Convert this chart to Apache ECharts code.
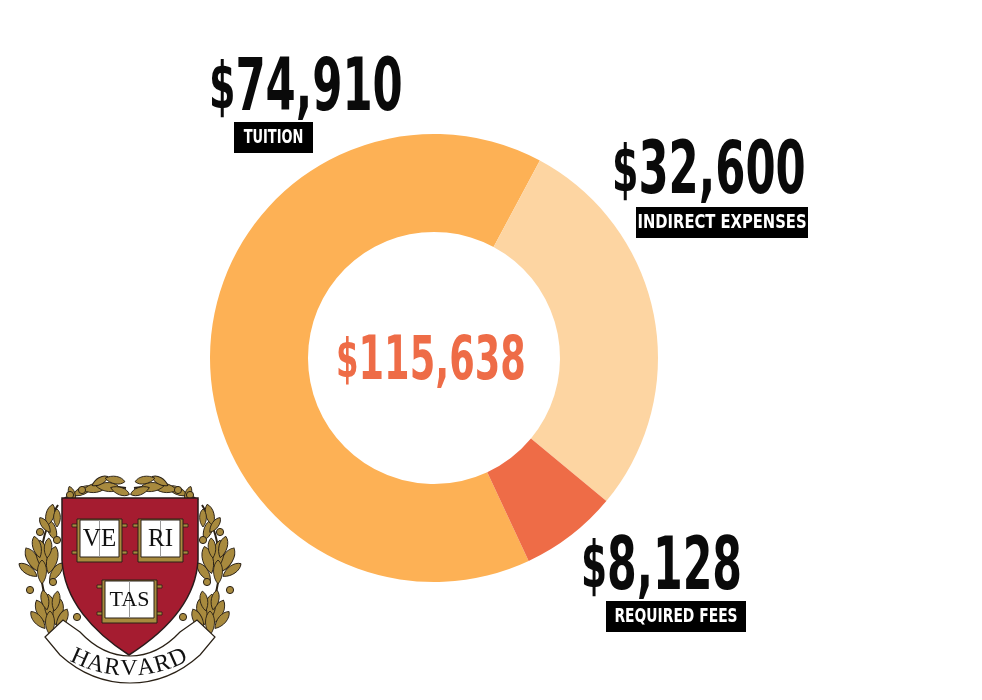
<!DOCTYPE html>
<html>
<head>
<meta charset="utf-8">
<title>Harvard cost</title>
<style>
    html, body { margin: 0; padding: 0; background: #fff; }
    #main { width: 982px; height: 700px; }
</style>
<script src="https://cdn.jsdelivr.net/npm/echarts@6/dist/echarts.min.js"></script>
</head>
<body>
<div id="main"></div>
<script>
const categories = ['TUITION', 'INDIRECT EXPENSES', 'REQUIRED FEES'];
const amounts = [74910, 32600, 8128];
const totalLabel = '115,638';
const colors = ['#fdb155', '#fdd5a2', '#ee6c47'];

const labelFont = '"DejaVu Sans Condensed", "DejaVu Sans", sans-serif';
const crestRed = '#a51c30';
const gold = '#a88a3e';
const ink = '#2a2116';

// 校徽的叶子和小球（只画左边，右边镜像）
const leaves = [
    [42, 612, -25, 1.3], [50, 608, -8, 1.4], [58, 612, 12, 1.3], [38, 620, -40, 1.1],
    [62, 620, 25, 1.2], [50, 623, 0, 1.2], [45, 600, -12, 1], [56, 601, 10, 1],
    [33, 560, -30, 1.4], [42, 555, -8, 1.5], [52, 560, 15, 1.4], [28, 570, -55, 1.1],
    [56, 572, 35, 1.1], [42, 572, 0, 1.2], [37, 547, -15, 1.1], [48, 548, 5, 1],
    [52, 530, -20, 1.1], [50, 515, 15, 1.1], [45, 525, -35, 0.9], [57, 518, 0, 0.9],
    [82, 491, 65, 1], [95, 488, 80, 1.2], [108, 487, 95, 1.2], [120, 491, 110, 1],
    [72, 494, -20, 0.8], [100, 481, 60, 0.9], [115, 480, 100, 1]
];
const berries = [[40, 532], [57, 540], [53, 582], [30, 590], [77, 617], [82, 490], [70, 495]];

// graphic 组件没有 path 类型，先注册校徽要用的形状
function regShape(name, d) {
    echarts.graphic.registerShape(name, echarts.graphic.extendPath(d, {}));
}
regShape('crestLeaf', 'M0 -10C5 -6 5 4 0 10C-5 4 -5 -6 0 -10Z');
regShape('crestShield', 'M62 498L198 498L198 560C196 600 165 632 129 655C93 632 64 600 62 560Z');
regShape('crestRibbon', 'M45 637L63 620L80 632C95 648 112 656 130 656C148 656 165 648 180 632L197 620L215 637L200 655C178 675 155 683 130 683C105 683 82 675 60 655Z');

function moneyText(v) {
    return '{s|$}{d|' + v + '}';
}

function moneyRich(size, color) {
    return {
        s: { font: 'bold ' + Math.round(size * 0.88) + 'px ' + labelFont, fill: color, verticalAlign: 'middle' },
        d: { font: 'bold ' + size + 'px ' + labelFont, fill: color, verticalAlign: 'middle' }
    };
}

// 大号金额 + 黑底小标签
function callout(i, amountX, amountY, boxX, boxY, boxW, amountScale, tagScale) {
    return [{
        type: 'text', x: amountX, y: amountY, scaleX: amountScale, z: 10,
        style: {
            text: moneyText(amounts[i].toLocaleString('en-US')),
            rich: moneyRich(73, '#0a0a0a'),
            verticalAlign: 'middle'
        }
    }, {
        type: 'rect', shape: { x: boxX, y: boxY, width: boxW, height: 31 }, z: 10,
        style: { fill: '#000' }
    }, {
        type: 'text', x: boxX + boxW / 2, y: boxY + 16, scaleX: tagScale, z: 11,
        style: {
            text: categories[i], font: 'bold 20px ' + labelFont, fill: '#fff',
            align: 'center', verticalAlign: 'middle'
        }
    }];
}

// 校徽：月桂枝
function wreath() {
    const out = [];
    [-1, 1].forEach(function (side) {
        const mx = function (x) { return side < 0 ? x : 260 - x; };
        out.push({
            type: 'bezierCurve', z: 2,
            shape: { x1: mx(72), y1: 636, cpx1: mx(30), cpy1: 600, cpx2: mx(35), cpy2: 540, x2: mx(58), y2: 505 },
            style: { fill: 'none', stroke: ink, lineWidth: 2 }
        });
        out.push({
            type: 'bezierCurve', z: 2,
            shape: { x1: mx(62), y1: 500, cpx1: mx(80), cpy1: 488, cpx2: mx(105), cpy2: 484, x2: mx(126), y2: 488 },
            style: { fill: 'none', stroke: ink, lineWidth: 2 }
        });
        leaves.forEach(function (l) {
            const deg = side < 0 ? l[2] : -l[2];
            out.push({
                type: 'crestLeaf', x: mx(l[0]), y: l[1], rotation: -deg * Math.PI / 180,
                scaleX: l[3], scaleY: l[3], z: 3,
                style: { fill: gold, stroke: ink, lineWidth: 0.9 / l[3] }
            });
        });
        berries.forEach(function (b) {
            out.push({
                type: 'circle', shape: { cx: mx(b[0]), cy: b[1], r: 3.6 }, z: 3,
                style: { fill: gold, stroke: ink, lineWidth: 1 }
            });
        });
    });
    return out;
}

// 校徽：书本
function book(x, y, w, h, text, size) {
    return [{
        type: 'rect', shape: { x: x - 5, y: y + 5, width: w + 10, height: 3 }, z: 5,
        style: { fill: gold, stroke: ink, lineWidth: 0.8 }
    }, {
        type: 'rect', shape: { x: x - 5, y: y + h - 11, width: w + 10, height: 3 }, z: 5,
        style: { fill: gold, stroke: ink, lineWidth: 0.8 }
    }, {
        type: 'rect', shape: { x: x, y: y, width: w, height: h }, z: 5,
        style: { fill: gold, stroke: ink, lineWidth: 1 }
    }, {
        type: 'rect', shape: { x: x + 3, y: y + 1, width: w - 6, height: h - 6 }, z: 6,
        style: { fill: '#fff', stroke: ink, lineWidth: 1 }
    }, {
        type: 'line', shape: { x1: x + w / 2, y1: y + 1, x2: x + w / 2, y2: y + h - 5 }, z: 6,
        style: { stroke: '#999', lineWidth: 1 }
    }, {
        type: 'text', x: x + w / 2, y: y + h / 2 - 1, z: 7,
        style: {
            text: text, font: size + 'px "Liberation Serif", serif', fill: '#111',
            align: 'center', verticalAlign: 'middle'
        }
    }];
}

// 校徽：缎带上的 HARVARD
function ribbonText(word) {
    const cx = 129, cy = 548, r = 121;
    const step = 8;
    return word.split('').map(function (ch, i) {
        const deg = (i - (word.length - 1) / 2) * step;
        const rad = deg * Math.PI / 180;
        return {
            type: 'text', x: cx + r * Math.sin(rad), y: cy + r * Math.cos(rad),
            rotation: rad, z: 9,
            style: {
                text: ch, font: '24px "Liberation Serif", serif', fill: '#111',
                align: 'center', verticalAlign: 'middle'
            }
        };
    });
}

const crest = [].concat(
    wreath(),
    [{ type: 'crestShield', z: 4, style: { fill: crestRed, stroke: '#2a1a1a', lineWidth: 1.5 } }],
    book(77, 519, 45, 43, 'VE', 25),
    book(138, 519, 45, 43, 'RI', 25),
    book(102, 580, 55, 43, 'TAS', 22),
    [{ type: 'crestRibbon', z: 8, style: { fill: '#fff', stroke: ink, lineWidth: 1.2 } }],
    ribbonText('HARVARD')
);

const chart = echarts.init(document.getElementById('main'));

const option = {
    animation: false,
    backgroundColor: '#fff',
    color: colors,
    series: [{
        type: 'pie',
        center: [434, 358],
        radius: [126, 224],
        startAngle: -65,
        silent: true,
        label: { show: false },
        labelLine: { show: false },
        data: categories.map(function (name, i) {
            return { name: name, value: amounts[i] };
        })
    }],
    graphic: { elements: [].concat(
        callout(0, 209, 91, 234, 122, 79, 0.66, 0.72),
        callout(1, 612, 174, 636, 207, 172, 0.66, 0.82),
        callout(2, 581, 570, 606, 601, 140, 0.65, 0.77),
        [{
            type: 'text', x: 336, y: 363, scaleX: 0.68, z: 10,
            style: {
                text: moneyText(totalLabel),
                rich: moneyRich(60, colors[2]),
                verticalAlign: 'middle'
            }
        }],
        crest
    ) }
};

chart.setOption(option);
</script>
</body>
</html>
